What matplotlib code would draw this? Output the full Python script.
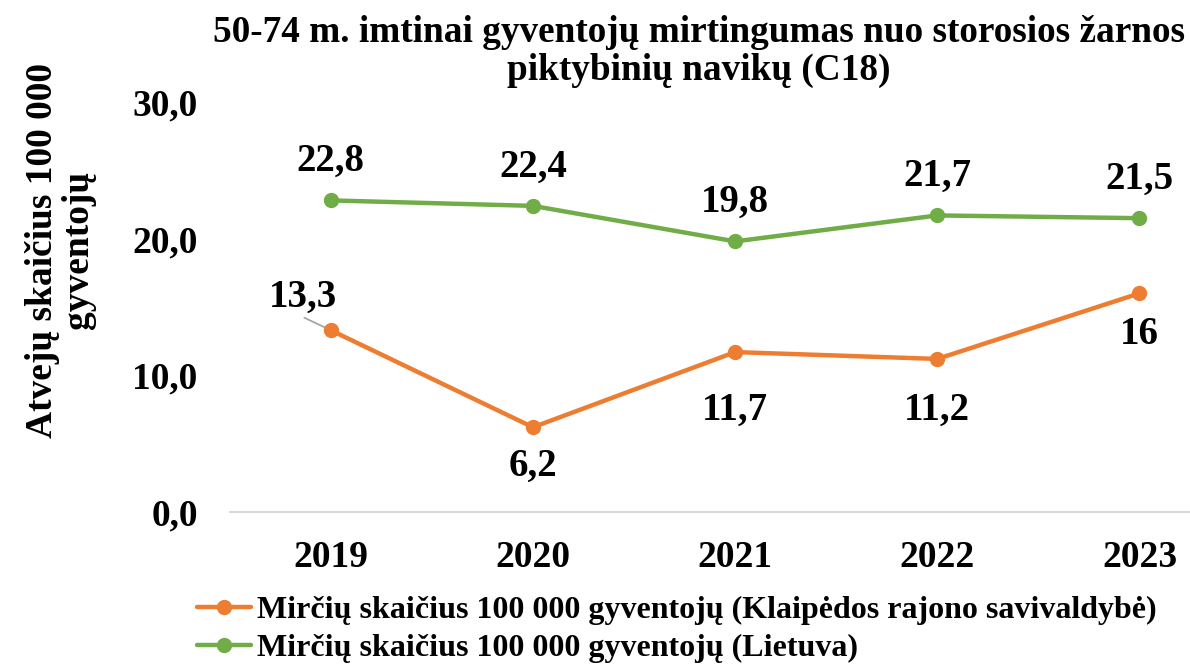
import matplotlib
matplotlib.use("Agg")
import matplotlib.pyplot as plt
from matplotlib.ticker import FuncFormatter

years = ["2019", "2020", "2021", "2022", "2023"]
klaipeda = [13.3, 6.2, 11.7, 11.2, 16]
lietuva = [22.8, 22.4, 19.8, 21.7, 21.5]
klaipeda_labels = ["13,3", "6,2", "11,7", "11,2", "16"]
lietuva_labels = ["22,8", "22,4", "19,8", "21,7", "21,5"]

plt.rcParams["font.family"] = ["Liberation Serif", "DejaVu Serif"]
plt.rcParams["font.weight"] = "bold"

ORANGE = "#ED7D31"
GREEN = "#70AD47"

fig = plt.figure(figsize=(11.9, 6.65), dpi=100)
ax = fig.add_axes([0.193, 0.2301, 0.807, 0.6165])

x = list(range(len(years)))
ax.plot(x, klaipeda, color=ORANGE, lw=3.2, marker="o", ms=10,
        solid_capstyle="round",
        label="Mirčių skaičius 100 000 gyventojų (Klaipėdos rajono savivaldybė)")
ax.plot(x, lietuva, color=GREEN, lw=3.2, marker="o", ms=10,
        solid_capstyle="round",
        label="Mirčių skaičius 100 000 gyventojų (Lietuva)")

# duomenų žymės
for i, (v, t) in enumerate(zip(lietuva, lietuva_labels)):
    ax.annotate(t, (i, v), xytext=(0, 28), textcoords="offset points",
                ha="center", va="center", fontsize=28, fontweight="bold")

offsets = [(-20, 24), (0, -28), (0, -42), (0, -37), (0, -30)]
for i, (v, t) in enumerate(zip(klaipeda, klaipeda_labels)):
    ax.annotate(t, (i, v), xytext=offsets[i], textcoords="offset points",
                ha="center", va="center", fontsize=28, fontweight="bold")

# pirmos žymės linija
ax.annotate("", (x[0], klaipeda[0]), xytext=(-19, 9), textcoords="offset points",
            arrowprops=dict(arrowstyle="-", color="#A6A6A6", lw=1.3,
                            shrinkA=0, shrinkB=2), zorder=1)

ax.set_xlim(-0.5, 4.25)
ax.set_ylim(0, 30)
ax.set_yticks([0, 10, 20, 30])
ax.yaxis.set_major_formatter(FuncFormatter(lambda v, p: f"{v:.1f}".replace(".", ",")))
ax.set_xticks(x)
ax.set_xticklabels(years)
ax.tick_params(axis="both", length=0, labelsize=27)
ax.tick_params(axis="y", pad=23)
ax.tick_params(axis="x", pad=20)
for lab in ax.get_xticklabels() + ax.get_yticklabels():
    lab.set_fontweight("bold")

for s in ["top", "right", "left"]:
    ax.spines[s].set_visible(False)
ax.spines["bottom"].set_color("#D9D9D9")
ax.spines["bottom"].set_linewidth(1.5)

fig.text(0.587, 0.922, "50-74 m. imtinai gyventojų mirtingumas nuo storosios žarnos\npiktybinių navikų (C18)",
         ha="center", va="center", fontsize=26.8, fontweight="bold", linespacing=1.1)

fig.text(0.051, 0.624, "Atvejų skaičius 100 000\ngyventojų", rotation=90,
         ha="center", va="center", fontsize=27, fontweight="bold", linespacing=1.05)

ax.legend(loc="upper left", bbox_to_anchor=(0.1546, 0.123), bbox_transform=fig.transFigure,
          frameon=False, prop={"size": 23, "weight": "bold"}, handlelength=1.7,
          handletextpad=0.2, labelspacing=0.25, borderaxespad=0)

fig.savefig("out.png", dpi=100)
